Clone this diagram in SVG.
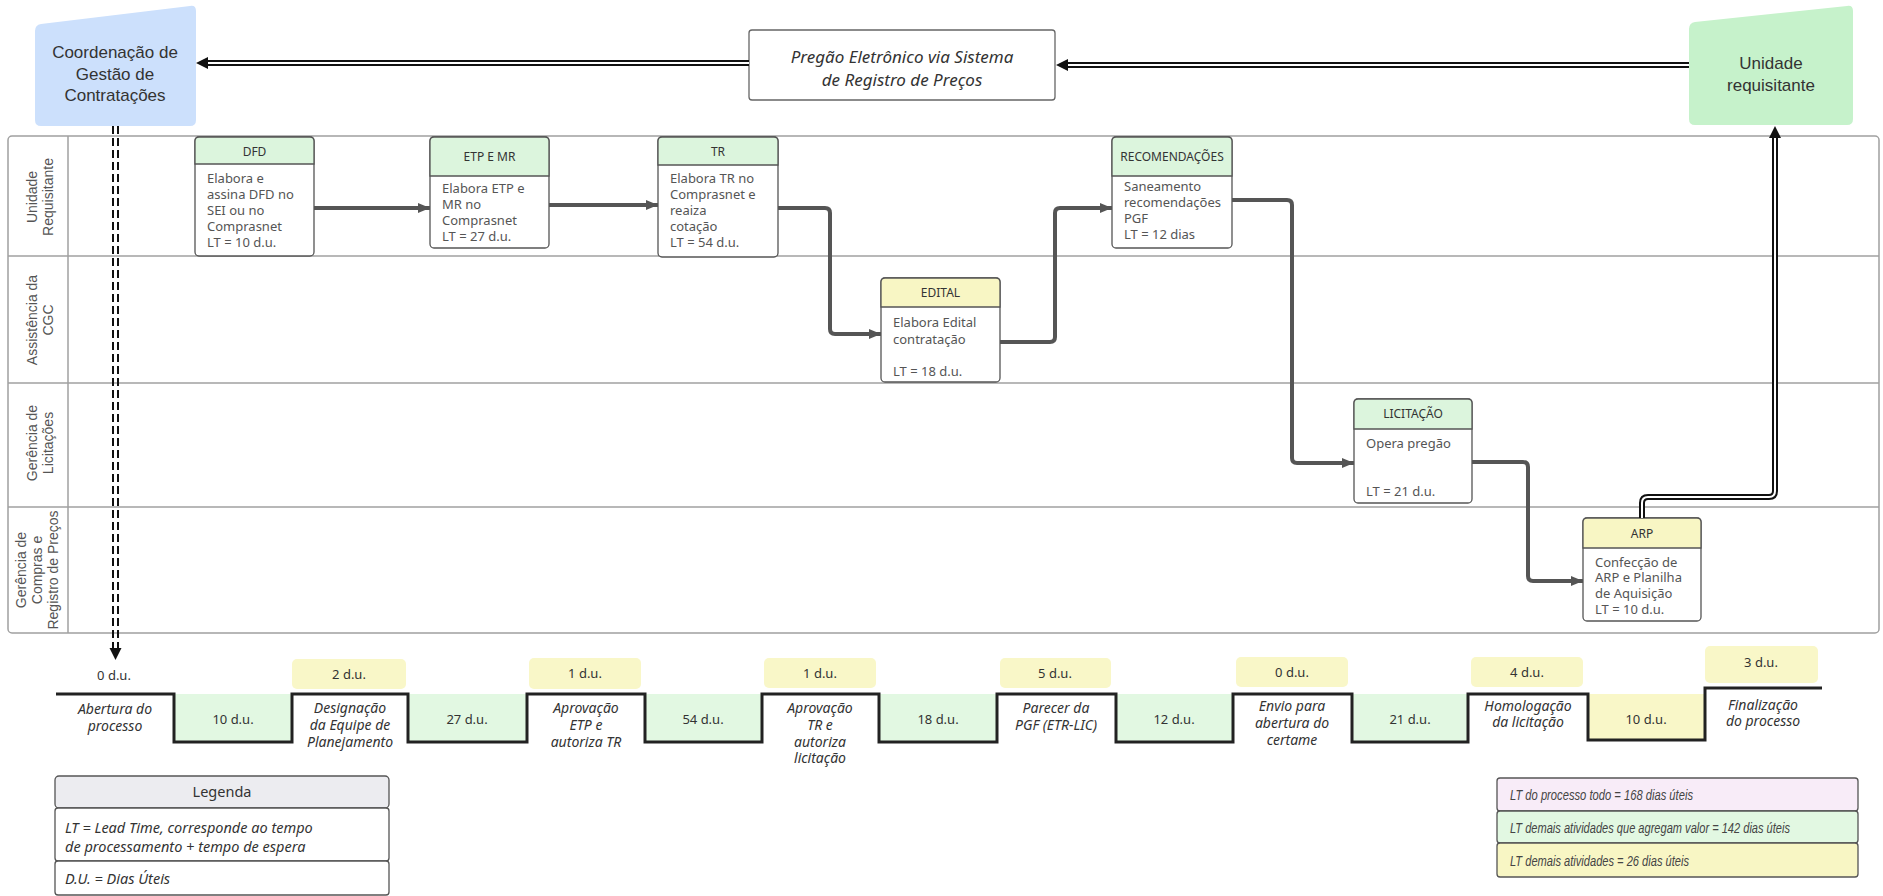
<svg xmlns="http://www.w3.org/2000/svg" width="1883" height="896" viewBox="0 0 1883 896">
  <style>
    .lane-txt { font-family: "Liberation Sans", Arial, sans-serif; font-size: 14px; fill: #555; text-anchor: middle; }
    .lane-line { stroke: #a0a0a0; stroke-width: 1.5; fill: none; }
    .node-box { fill: #fff; stroke: #555; stroke-width: 1.3; }
    .hdr-green { fill: #dcf5dd; stroke: #555; stroke-width: 1.3; }
    .hdr-yellow { fill: #f8f6c4; stroke: #555; stroke-width: 1.3; }
    .hdr-txt { font-family: "Noto Sans", "Open Sans", sans-serif; font-size: 12px; fill: #333; text-anchor: middle; }
    .body-txt { font-family: "Noto Sans", "Open Sans", sans-serif; font-size: 13px; fill: #555; }
    .flow { fill: none; stroke: #555; stroke-width: 4; stroke-linejoin: round; }
    .dbl-outer { fill: none; stroke: #111; stroke-width: 6; }
    .dbl-inner { fill: none; stroke: #fff; stroke-width: 2; }
    .tl-txt { font-family: "Noto Sans", "Open Sans", sans-serif; font-style: italic; font-size: 14px; fill: #333; text-anchor: middle; }
    .du-txt { font-family: "Noto Sans", "Open Sans", sans-serif; font-size: 13px; fill: #333; text-anchor: middle; }
    .green-fill { fill: #e2f8e2; }
    .yellow-fill { fill: #f9f7c8; }
    .leg-box { stroke: #555; stroke-width: 1.3; }
    .leg-txt { font-family: "Noto Sans", "Open Sans", sans-serif; font-style: italic; font-size: 14.5px; fill: #333; }
    .sum-txt { font-family: "Liberation Sans", Arial, sans-serif; font-style: italic; font-size: 14px; fill: #444; }
  </style>
  <defs>
    <marker id="arr" markerUnits="userSpaceOnUse" markerWidth="14" markerHeight="12" refX="12" refY="5" orient="auto">
      <path d="M0,0 L12,5 L0,10 z" fill="#555"/>
    </marker>
  </defs>

  <rect x="0" y="0" width="1883" height="896" fill="#fff"/>

  <!-- Pool with four lanes -->
  <g id="pool">
    <rect x="8" y="136" width="1871" height="497" rx="4" class="lane-line"/>
    <line x1="68" y1="136" x2="68" y2="633" class="lane-line"/>
    <line x1="8" y1="256" x2="1879" y2="256" class="lane-line"/>
    <line x1="8" y1="383" x2="1879" y2="383" class="lane-line"/>
    <line x1="8" y1="507" x2="1879" y2="507" class="lane-line"/>
    <text class="lane-txt" transform="translate(40,197) rotate(-90)"><tspan x="0" y="-3">Unidade</tspan><tspan x="0" y="13">Requisitante</tspan></text>
    <text class="lane-txt" transform="translate(40,320) rotate(-90)"><tspan x="0" y="-3">Assistência da</tspan><tspan x="0" y="13">CGC</tspan></text>
    <text class="lane-txt" transform="translate(40,443) rotate(-90)"><tspan x="0" y="-3">Gerência de</tspan><tspan x="0" y="13">Licitações</tspan></text>
    <text class="lane-txt" transform="translate(37,570) rotate(-90)"><tspan x="0" y="-11">Gerência de</tspan><tspan x="0" y="5">Compras e</tspan><tspan x="0" y="21">Registro de Preços</tspan></text>
  </g>

  <!-- Top actors -->
  <g id="coordenacao">
    <path d="M35,31 Q35,25 41,24 L190,6 Q196,5 196,11 L196,120 Q196,126 190,126 L41,126 Q35,126 35,120 Z" fill="#cce0fc"/>
    <text font-family="Liberation Sans, Arial, sans-serif" font-size="17" fill="#333" text-anchor="middle">
      <tspan x="115" y="58">Coordenação de</tspan><tspan x="115" y="80">Gestão de</tspan><tspan x="115" y="101">Contratações</tspan>
    </text>
  </g>
  <g id="pregao">
    <rect x="749" y="30" width="306" height="70" rx="3" fill="#fff" stroke="#666" stroke-width="1.3"/>
    <text font-family="Noto Sans, Open Sans, sans-serif" font-style="italic" font-size="17" fill="#333" text-anchor="middle">
      <tspan x="902" y="63">Pregão Eletrônico via Sistema</tspan><tspan x="902" y="86">de Registro de Preços</tspan>
    </text>
  </g>
  <g id="unidade">
    <path d="M1689,29 Q1689,23 1695,22 L1847,6 Q1853,5 1853,11 L1853,119 Q1853,125 1847,125 L1695,125 Q1689,125 1689,119 Z" fill="#c6f2cb"/>
    <text font-family="Liberation Sans, Arial, sans-serif" font-size="17" fill="#333" text-anchor="middle">
      <tspan x="1771" y="69">Unidade</tspan><tspan x="1771" y="91">requisitante</tspan>
    </text>
  </g>

  <!-- Activity nodes -->
  <g id="dfd">
    <rect x="195" y="137" width="119" height="119" rx="4" class="node-box"/>
    <path d="M195,164 V141 Q195,137 199,137 H310 Q314,137 314,141 V164 Z" class="hdr-green"/>
    <text x="254.5" y="156" class="hdr-txt">DFD</text>
    <text class="body-txt"><tspan x="207" y="183">Elabora e</tspan><tspan x="207" y="199">assina DFD no</tspan><tspan x="207" y="215">SEI ou no</tspan><tspan x="207" y="231">Comprasnet</tspan><tspan x="207" y="247">LT = 10 d.u.</tspan></text>
  </g>
  <g id="etp">
    <rect x="430" y="137" width="119" height="111" rx="4" class="node-box"/>
    <path d="M430,176 V141 Q430,137 434,137 H545 Q549,137 549,141 V176 Z" class="hdr-green"/>
    <text x="489.5" y="161" class="hdr-txt">ETP E MR</text>
    <text class="body-txt"><tspan x="442" y="193">Elabora ETP e</tspan><tspan x="442" y="209">MR no</tspan><tspan x="442" y="225">Comprasnet</tspan><tspan x="442" y="241">LT = 27 d.u.</tspan></text>
  </g>
  <g id="tr">
    <rect x="658" y="137" width="120" height="120" rx="4" class="node-box"/>
    <path d="M658,165 V141 Q658,137 662,137 H774 Q778,137 778,141 V165 Z" class="hdr-green"/>
    <text x="718" y="156" class="hdr-txt">TR</text>
    <text class="body-txt"><tspan x="670" y="183">Elabora TR no</tspan><tspan x="670" y="199">Comprasnet e</tspan><tspan x="670" y="215">reaiza</tspan><tspan x="670" y="231">cotação</tspan><tspan x="670" y="247">LT = 54 d.u.</tspan></text>
  </g>
  <g id="edital">
    <rect x="881" y="278" width="119" height="104" rx="4" class="node-box"/>
    <path d="M881,307 V282 Q881,278 885,278 H996 Q1000,278 1000,282 V307 Z" class="hdr-yellow"/>
    <text x="940.5" y="297" class="hdr-txt">EDITAL</text>
    <text class="body-txt"><tspan x="893" y="327">Elabora Edital</tspan><tspan x="893" y="344">contratação</tspan><tspan x="893" y="376">LT = 18 d.u.</tspan></text>
  </g>
  <g id="recomendacoes">
    <rect x="1112" y="137" width="120" height="111" rx="4" class="node-box"/>
    <path d="M1112,176 V141 Q1112,137 1116,137 H1228 Q1232,137 1232,141 V176 Z" class="hdr-green"/>
    <text x="1172" y="161" class="hdr-txt">RECOMENDAÇÕES</text>
    <text class="body-txt"><tspan x="1124" y="191">Saneamento</tspan><tspan x="1124" y="207">recomendações</tspan><tspan x="1124" y="223">PGF</tspan><tspan x="1124" y="239">LT = 12 dias</tspan></text>
  </g>
  <g id="licitacao">
    <rect x="1354" y="399" width="118" height="104" rx="4" class="node-box"/>
    <path d="M1354,429 V403 Q1354,399 1358,399 H1468 Q1472,399 1472,403 V429 Z" class="hdr-green"/>
    <text x="1413" y="418" class="hdr-txt">LICITAÇÃO</text>
    <text class="body-txt"><tspan x="1366" y="448">Opera pregão</tspan><tspan x="1366" y="496">LT = 21 d.u.</tspan></text>
  </g>
  <g id="arp">
    <rect x="1583" y="518" width="118" height="103" rx="4" class="node-box"/>
    <path d="M1583,548 V522 Q1583,518 1587,518 H1697 Q1701,518 1701,522 V548 Z" class="hdr-yellow"/>
    <text x="1642" y="538" class="hdr-txt">ARP</text>
    <text class="body-txt"><tspan x="1595" y="567">Confecção de</tspan><tspan x="1595" y="582">ARP e Planilha</tspan><tspan x="1595" y="598">de Aquisição</tspan><tspan x="1595" y="614">LT = 10 d.u.</tspan></text>
  </g>

  <!-- Connectors -->
  <g id="connectors">
    <path class="flow" d="M314,208 H430" marker-end="url(#arr)"/>
    <path class="flow" d="M549,205 H658" marker-end="url(#arr)"/>
    <path class="flow" d="M778,208 H825 Q830,208 830,213 V329 Q830,334 835,334 H881" marker-end="url(#arr)"/>
    <path class="flow" d="M1000,342 H1050 Q1055,342 1055,337 V213 Q1055,208 1060,208 H1112" marker-end="url(#arr)"/>
    <path class="flow" d="M1232,200 H1287 Q1292,200 1292,205 V458 Q1292,463 1297,463 H1354" marker-end="url(#arr)"/>
    <path class="flow" d="M1472,462 H1523 Q1528,462 1528,467 V576 Q1528,581 1533,581 H1583" marker-end="url(#arr)"/>

    <!-- double lines between actors -->
    <path class="dbl-outer" d="M749,63 H205"/>
    <path class="dbl-inner" d="M749,63 H205"/>
    <path d="M196,63 L208,57 L208,69 Z" fill="#111"/>
    <path class="dbl-outer" d="M1689,65 H1066"/>
    <path class="dbl-inner" d="M1689,65 H1066"/>
    <path d="M1056,65 L1068,59 L1068,71 Z" fill="#111"/>
    <path class="dbl-outer" d="M1642,518 V503 Q1642,497 1648,497 H1769 Q1775,497 1775,491 V136"/>
    <path class="dbl-inner" d="M1642,518 V503 Q1642,497 1648,497 H1769 Q1775,497 1775,491 V136"/>
    <path d="M1775,126 L1769,138 L1781,138 Z" fill="#111"/>

    <!-- dashed double line down to the timeline -->
    <path d="M113,126 V648 M118,126 V648" fill="none" stroke="#111" stroke-width="2" stroke-dasharray="8 4"/>
    <path d="M115.5,660 L109.5,648 L121.5,648 Z" fill="#111"/>
  </g>

  <!-- Timeline -->
  <g id="timeline">
    <rect x="174" y="694" width="118" height="48" class="green-fill"/>
    <rect x="408" y="694" width="119" height="48" class="green-fill"/>
    <rect x="645" y="694" width="117" height="48" class="green-fill"/>
    <rect x="879" y="694" width="118" height="48" class="green-fill"/>
    <rect x="1116" y="694" width="117" height="48" class="green-fill"/>
    <rect x="1352" y="694" width="116" height="48" class="green-fill"/>
    <rect x="1588" y="694" width="117" height="46" class="yellow-fill"/>

    <rect x="292" y="659" width="114" height="30" rx="5" class="yellow-fill"/>
    <rect x="529" y="658" width="112" height="31" rx="5" class="yellow-fill"/>
    <rect x="764" y="658" width="112" height="30" rx="5" class="yellow-fill"/>
    <rect x="1000" y="658" width="111" height="30" rx="5" class="yellow-fill"/>
    <rect x="1236" y="657" width="112" height="30" rx="5" class="yellow-fill"/>
    <rect x="1471" y="657" width="112" height="30" rx="5" class="yellow-fill"/>
    <rect x="1705" y="646" width="113" height="37" rx="5" class="yellow-fill"/>

    <path d="M56,694 H174 V742 H292 V694 H408 V742 H527 V694 H645 V742 H762 V694 H879 V742 H997 V694 H1116 V742 H1233 V694 H1352 V742 H1468 V694 H1588 V740 H1705 V688 H1822" fill="none" stroke="#222" stroke-width="3"/>

    <text class="du-txt" x="114" y="680">0 d.u.</text>
    <text class="du-txt" x="349" y="679">2 d.u.</text>
    <text class="du-txt" x="585" y="678">1 d.u.</text>
    <text class="du-txt" x="820" y="678">1 d.u.</text>
    <text class="du-txt" x="1055" y="678">5 d.u.</text>
    <text class="du-txt" x="1292" y="677">0 d.u.</text>
    <text class="du-txt" x="1527" y="677">4 d.u.</text>
    <text class="du-txt" x="1761" y="667">3 d.u.</text>

    <text class="du-txt" x="233" y="724">10 d.u.</text>
    <text class="du-txt" x="467" y="724">27 d.u.</text>
    <text class="du-txt" x="703" y="724">54 d.u.</text>
    <text class="du-txt" x="938" y="724">18 d.u.</text>
    <text class="du-txt" x="1174" y="724">12 d.u.</text>
    <text class="du-txt" x="1410" y="724">21 d.u.</text>
    <text class="du-txt" x="1646" y="724">10 d.u.</text>

    <text class="tl-txt"><tspan x="115" y="714">Abertura do</tspan><tspan x="115" y="731">processo</tspan></text>
    <text class="tl-txt"><tspan x="350" y="713">Designação</tspan><tspan x="350" y="730">da Equipe de</tspan><tspan x="350" y="747">Planejamento</tspan></text>
    <text class="tl-txt"><tspan x="586" y="713">Aprovação</tspan><tspan x="586" y="730">ETP e</tspan><tspan x="586" y="747">autoriza TR</tspan></text>
    <text class="tl-txt"><tspan x="820" y="713">Aprovação</tspan><tspan x="820" y="730">TR e</tspan><tspan x="820" y="747">autoriza</tspan><tspan x="820" y="763">licitação</tspan></text>
    <text class="tl-txt"><tspan x="1056" y="713">Parecer da</tspan><tspan x="1056" y="730">PGF (ETR-LIC)</tspan></text>
    <text class="tl-txt"><tspan x="1292" y="711">Envio para</tspan><tspan x="1292" y="728">abertura do</tspan><tspan x="1292" y="745">certame</tspan></text>
    <text class="tl-txt"><tspan x="1528" y="711">Homologação</tspan><tspan x="1528" y="727">da licitação</tspan></text>
    <text class="tl-txt"><tspan x="1763" y="710">Finalização</tspan><tspan x="1763" y="726">do processo</tspan></text>
  </g>

  <!-- Legend -->
  <g id="legenda">
    <rect x="55" y="776" width="334" height="32" rx="4" fill="#ececf0" class="leg-box"/>
    <rect x="55" y="808" width="334" height="53" rx="3" fill="#fff" class="leg-box"/>
    <rect x="55" y="861" width="334" height="34" rx="3" fill="#fff" class="leg-box"/>
    <text x="222" y="797" font-family="Noto Sans, Open Sans, sans-serif" font-size="14.5" fill="#333" text-anchor="middle">Legenda</text>
    <text class="leg-txt"><tspan x="65" y="833">LT = Lead Time, corresponde ao tempo</tspan><tspan x="65" y="852">de processamento + tempo de espera</tspan></text>
    <text class="leg-txt" x="65" y="884">D.U. = Dias Úteis</text>
  </g>

  <!-- Lead time summary -->
  <g id="resumo">
    <rect x="1497" y="778" width="361" height="33" rx="3" fill="#f8ecf8" class="leg-box"/>
    <rect x="1497" y="811" width="361" height="32" rx="3" fill="#e2f8e2" class="leg-box"/>
    <rect x="1497" y="843" width="361" height="34" rx="3" fill="#f8f6c4" class="leg-box"/>
    <text class="sum-txt" x="1510" y="800" textLength="183" lengthAdjust="spacingAndGlyphs">LT  do processo  todo = 168 dias úteis</text>
    <text class="sum-txt" x="1510" y="833" textLength="280" lengthAdjust="spacingAndGlyphs">LT demais  atividades  que agregam  valor = 142 dias úteis</text>
    <text class="sum-txt" x="1510" y="866" textLength="179" lengthAdjust="spacingAndGlyphs">LT demais  atividades  = 26 dias  úteis</text>
  </g>
</svg>
